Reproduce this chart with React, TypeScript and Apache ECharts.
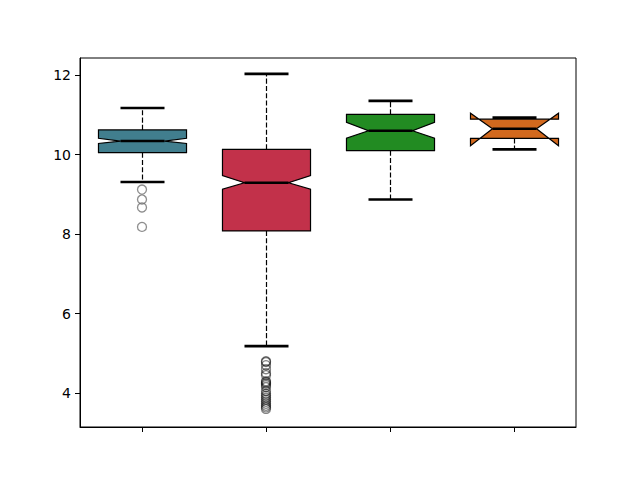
import React, { useEffect, useRef } from "react";
import * as echarts from "echarts";

// Category positions (no tick labels in the reference)
const categories = ["A", "B", "C", "D"];

// Box statistics per group
const whiskerLow = [9.31, 5.18, 8.87, 10.13];
const q1 = [10.05, 8.08, 10.1, 10.41];
const notchLow = [10.28, 9.13, 10.41, 10.22];
const median = [10.34, 9.29, 10.6, 10.65];
const notchHigh = [10.41, 9.47, 10.81, 11.04];
const q3 = [10.62, 10.13, 11.01, 10.89];
const whiskerHigh = [11.17, 12.03, 11.35, 10.93];

// Box colours
const boxColors = ["#417e8e", "#c2314a", "#228b22", "#d2691e"];

// Outliers per group
const outliersA = [9.12, 8.87, 8.67, 8.18];
const outliersB = [
  4.8, 4.78, 4.7, 4.6, 4.5, 4.45, 4.3, 4.27, 4.24, 4.2, 4.15, 4.05, 3.98, 3.93,
  3.88, 3.83, 3.78, 3.73, 3.68, 3.64, 3.6,
];

// Y axis
const yMin = 3.145;
const yMax = 12.43;
const yTicks = [4, 6, 8, 10, 12];

export default function App() {
  const ref = useRef<HTMLDivElement>(null);

  useEffect(() => {
    if (!ref.current) return;
    const chart = echarts.init(ref.current, null, { renderer: "svg" });

    const boxData = categories.map((_, i) => [
      i,
      whiskerLow[i],
      q1[i],
      notchLow[i],
      median[i],
      notchHigh[i],
      q3[i],
      whiskerHigh[i],
    ]);

    const renderItem = (params: any, api: any) => {
      const idx = api.value(0);
      const band = api.size([1, 0])[0];
      const hw = band * 0.355;
      const cw = hw / 2;
      const p = (v: number) => api.coord([idx, v]);
      const c0 = p(api.value(1));
      const cx = Math.round(c0[0]) + 0.5;
      const yWl = c0[1];
      const yQ1 = p(api.value(2))[1];
      const yNl = p(api.value(3))[1];
      const yMed = p(api.value(4))[1];
      const yNh = p(api.value(5))[1];
      const yQ3 = p(api.value(6))[1];
      const yWh = p(api.value(7))[1];
      const L = cx - hw;
      const R = cx + hw;
      const cl = cx - cw;
      const cr = cx + cw;
      const color = boxColors[idx];
      const dash = [5.1, 2.2];
      return {
        type: "group",
        children: [
          {
            type: "line",
            shape: { x1: cx, y1: yQ1, x2: cx, y2: yWl },
            style: { stroke: "#000", lineWidth: 1.2, lineDash: dash },
          },
          {
            type: "line",
            shape: { x1: cx, y1: yQ3, x2: cx, y2: yWh },
            style: { stroke: "#000", lineWidth: 1.2, lineDash: dash },
          },
          {
            type: "polygon",
            shape: {
              points: [
                [L, yQ1],
                [R, yQ1],
                [R, yNl],
                [cr, yMed],
                [R, yNh],
                [R, yQ3],
                [L, yQ3],
                [L, yNh],
                [cl, yMed],
                [L, yNl],
              ],
            },
            style: { fill: color, stroke: "#000", lineWidth: 1.2, lineJoin: "miter" },
          },
          {
            type: "line",
            shape: { x1: cl, y1: yMed, x2: cr, y2: yMed },
            style: { stroke: "#000", lineWidth: 2.6 },
          },
          {
            type: "line",
            shape: { x1: cl, y1: yWl, x2: cr, y2: yWl },
            style: { stroke: "#000", lineWidth: 2.6 },
          },
          {
            type: "line",
            shape: { x1: cl, y1: yWh, x2: cr, y2: yWh },
            style: { stroke: "#000", lineWidth: 2.6 },
          },
        ],
      };
    };

    chart.setOption({
      animation: false,
      backgroundColor: "#fff",
      grid: {
        left: 80,
        right: 64,
        top: 58,
        bottom: 53,
        show: true,
        borderColor: "#000",
        borderWidth: 1,
        backgroundColor: "transparent",
      },
      xAxis: {
        type: "category",
        data: categories,
        boundaryGap: true,
        axisLine: { show: true, lineStyle: { color: "#000", width: 1 } },
        axisTick: {
          show: true,
          alignWithLabel: true,
          interval: 0,
          length: 5,
          lineStyle: { color: "#000", width: 1 },
        },
        axisLabel: { show: false },
        splitLine: { show: false },
      },
      yAxis: {
        type: "value",
        min: yMin,
        max: yMax,
        axisLine: { show: true, lineStyle: { color: "#000", width: 1 } },
        axisTick: {
          show: true,
          length: 5,
          customValues: yTicks,
          lineStyle: { color: "#000", width: 1 },
        },
        axisLabel: {
          show: true,
          customValues: yTicks,
          margin: 9,
          color: "#000",
          fontFamily: "DejaVu Sans",
          fontSize: 14,
          formatter: (v: number) => String(v),
        },
        splitLine: { show: false },
      },
      series: [
        {
          type: "custom",
          renderItem,
          data: boxData,
          encode: { x: 0, y: [1, 2, 3, 4, 5, 6, 7] },
          clip: false,
          z: 2,
        },
        {
          type: "scatter",
          data: outliersA.map((v) => [0, v]),
          symbol: "circle",
          symbolSize: 9,
          itemStyle: { color: "rgba(0,0,0,0)", borderColor: "#707070", borderWidth: 1.3 },
          z: 3,
        },
        {
          type: "scatter",
          data: outliersB.map((v) => [1, v]),
          symbol: "circle",
          symbolSize: 9,
          itemStyle: {
            color: "rgba(0,0,0,0)",
            borderColor: "rgba(0,0,0,0.6)",
            borderWidth: 1.3,
          },
          z: 3,
        },
      ],
    });

    return () => chart.dispose();
  }, []);

  return (
    <div
      ref={ref}
      style={{ position: "fixed", left: 0, top: 0, width: 640, height: 480 }}
    />
  );
}
